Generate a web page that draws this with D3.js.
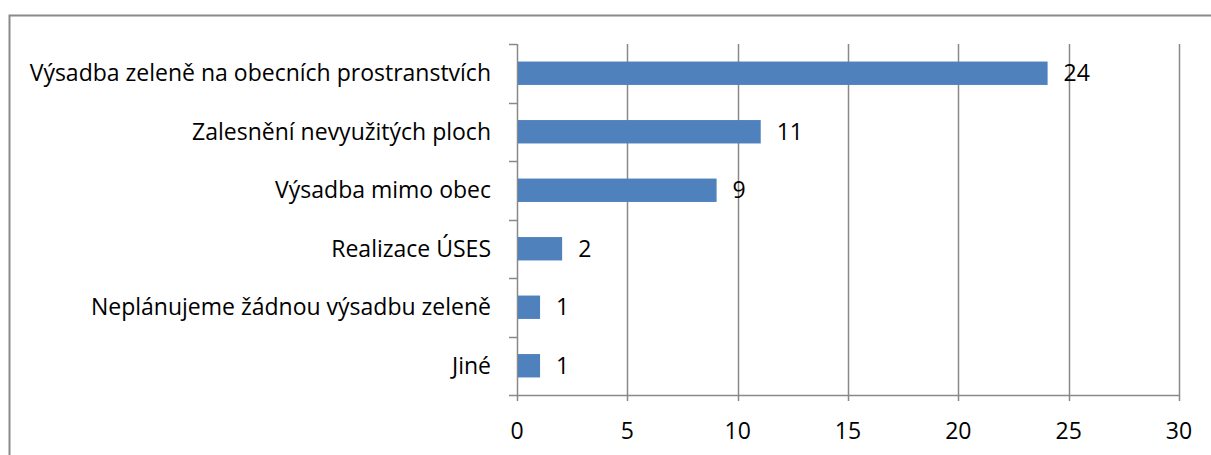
<!DOCTYPE html>
<html>
<head>
<meta charset="utf-8">
<script src="https://cdn.jsdelivr.net/npm/d3@7"></script>
<style>
  body { margin: 0; background: #fff; }
  svg { display: block; }
  text { font-family: "Open Sans", Lato, sans-serif; fill: #000; }
</style>
</head>
<body>
<svg id="chart" width="1211" height="455"></svg>
<script>
const categories = [
    "Výsadba zeleně na obecních prostranstvích",
    "Zalesnění nevyužitých ploch",
    "Výsadba mimo obec",
    "Realizace ÚSES",
    "Neplánujeme žádnou výsadbu zeleně",
    "Jiné"
];
const values = [24, 11, 9, 2, 1, 1];
const xTicks = [0, 5, 10, 15, 20, 25, 30];

const margin = {top: 44, left: 517, right: 32, bottom: 60};
const W = 1211, H = 455;
const gridColor = "#898989";
const barColor = "#4F81BD";
const fontSize = 23;

const svg = d3.select("#chart");

// chart frame (only top and left edges fall inside the picture)
svg.append("rect")
    .attr("x", 9.5).attr("y", 15.5)
    .attr("width", W + 20).attr("height", H + 20)
    .attr("fill", "none")
    .attr("stroke", "#8a8a8a")
    .attr("stroke-width", 2);

const x = d3.scaleLinear()
    .domain([0, 30])
    .range([margin.left, W - margin.right]);

const y = d3.scaleBand()
    .domain(categories)
    .range([margin.top, H - margin.bottom])
    .paddingInner(0.6)
    .paddingOuter(0.3);

const y0 = margin.top, y1 = H - margin.bottom;

// vertical gridlines
svg.append("g")
    .selectAll("line")
    .data(xTicks)
    .join("line")
    .attr("x1", d => Math.round(x(d)) + 0.5)
    .attr("x2", d => Math.round(x(d)) + 0.5)
    .attr("y1", y0)
    .attr("y2", y1 + 6)
    .attr("stroke", gridColor)
    .attr("stroke-width", 1.5);

// category boundaries (tick marks on the category axis)
const step = (y1 - y0) / categories.length;
svg.append("g")
    .selectAll("line")
    .data(d3.range(categories.length + 1))
    .join("line")
    .attr("x1", margin.left - 8)
    .attr("x2", margin.left)
    .attr("y1", i => Math.round(y0 + i * step) + 0.5)
    .attr("y2", i => Math.round(y0 + i * step) + 0.5)
    .attr("stroke", gridColor)
    .attr("stroke-width", 1.5);

// x axis line
svg.append("line")
    .attr("x1", margin.left).attr("x2", x(30) + 0.5)
    .attr("y1", Math.round(y1) + 0.5).attr("y2", Math.round(y1) + 0.5)
    .attr("stroke", gridColor)
    .attr("stroke-width", 1.5);

// bars
svg.append("g")
    .selectAll("rect")
    .data(values)
    .join("rect")
    .attr("x", x(0) + 1)
    .attr("y", (d, i) => y(categories[i]))
    .attr("width", d => x(d) - x(0))
    .attr("height", y.bandwidth())
    .attr("fill", barColor);

// value labels
svg.append("g")
    .selectAll("text")
    .data(values)
    .join("text")
    .attr("x", d => x(d) + 17)
    .attr("y", (d, i) => y(categories[i]) + y.bandwidth() / 2)
    .attr("dy", "0.35em")
    .style("font-size", fontSize + "px")
    .text(d => d);

// category labels
svg.append("g")
    .selectAll("text")
    .data(categories)
    .join("text")
    .attr("x", margin.left - 26)
    .attr("y", d => y(d) + y.bandwidth() / 2)
    .attr("dy", "0.35em")
    .attr("text-anchor", "end")
    .style("font-size", fontSize + "px")
    .text(d => d);

// x tick labels
svg.append("g")
    .selectAll("text")
    .data(xTicks)
    .join("text")
    .attr("x", d => x(d))
    .attr("y", 431)
    .attr("dy", "0.35em")
    .attr("text-anchor", "middle")
    .style("font-size", fontSize + "px")
    .text(d => d);
</script>
</body>
</html>
